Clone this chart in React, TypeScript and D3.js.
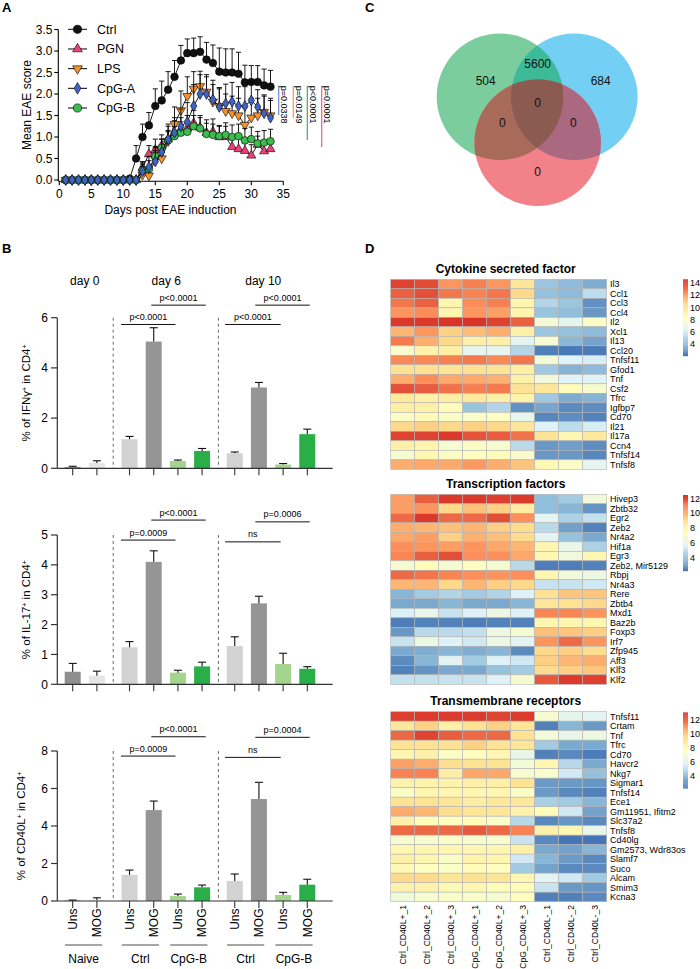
import React from "react";
import * as d3 from "d3";

const FONT = "'Liberation Sans', Arial, Helvetica, sans-serif";

// ---------------- Panel A data ----------------
const days = [1,2,3,4,5,6,7,8,9,10,11,12,13,14,15,16,17,18,19,20,21,22,23,24,25,26,27,28,29,30,31,32,33];
const seriesNames = ["Ctrl", "PGN", "LPS", "CpG-A", "CpG-B"];
const ctrlMean = [0,0,0,0,0,0,0,0,0,0,0.03,0.5,1.0,1.27,1.72,1.85,2.1,2.4,2.78,2.95,2.95,2.98,2.8,2.72,2.52,2.5,2.5,2.47,2.27,2.28,2.28,2.2,2.17];
const ctrlErr = [0,0,0,0,0,0,0,0,0,0,0.03,0.3,0.3,0.3,0.4,0.45,0.42,0.38,0.35,0.33,0.35,0.35,0.4,0.42,0.55,0.55,0.55,0.5,0.4,0.38,0.38,0.38,0.38];
const pgnMean = [0,0,0,0,0,0,0,0,0,0,0,0,0.28,0.6,0.7,0.8,0.95,1.08,1.15,1.2,1.32,1.22,1.1,1.12,1.0,1.0,0.77,0.72,0.68,0.57,0.82,0.67,0.72];
const pgnErr = [0,0,0,0,0,0,0,0,0,0,0,0,0.15,0.2,0.25,0.25,0.2,0.3,0.3,0.3,0.3,0.28,0.3,0.3,0.25,0.25,0.25,0.25,0.22,0.25,0.2,0.2,0.2];
const lpsMean = [0,0,0,0,0,0,0,0,0,0,0,0,0.12,0.1,0.48,0.5,0.9,1.3,1.62,1.95,2.12,2.18,2.05,1.82,1.72,1.6,1.55,1.5,1.28,1.45,1.5,1.58,1.5];
const lpsErr = [0,0,0,0,0,0,0,0,0,0,0,0,0.2,0.2,0.3,0.3,0.35,0.4,0.45,0.45,0.4,0.35,0.35,0.4,0.4,0.4,0.4,0.4,0.4,0.45,0.4,0.4,0.4];
const cpgaMean = [0,0,0,0,0,0,0,0,0,0,0,0,0.2,0.3,0.43,0.65,0.95,1.1,1.25,1.35,1.72,2.0,2.0,1.87,1.7,1.78,1.82,1.72,1.72,1.85,1.7,1.55,1.45];
const cpgaErr = [0,0,0,0,0,0,0,0,0,0,0,0,0.2,0.25,0.25,0.3,0.35,0.35,0.4,0.45,0.5,0.45,0.45,0.45,0.45,0.45,0.45,0.45,0.45,0.45,0.4,0.4,0.4];
const cpgbMean = [0,0,0,0,0,0,0,0,0,0,0,0,0.22,0.25,0.55,0.75,0.92,1.02,1.1,1.12,1.25,1.2,1.07,1.05,1.02,1.05,1.0,1.02,0.92,0.95,0.85,0.87,0.9];
const cpgbErr = [0,0,0,0,0,0,0,0,0,0,0,0,0.15,0.2,0.2,0.2,0.2,0.22,0.25,0.25,0.25,0.25,0.25,0.25,0.25,0.28,0.28,0.28,0.28,0.28,0.28,0.28,0.28];
const aXTicks = [0,5,10,15,20,25,30,35];
const aYTicks = [0,0.5,1.0,1.5,2.0,2.5,3.0,3.5];
const sigLabels = ["p=0.0338", "p=0.0149", "p<0.0001", "p=0.0001"];
const sigTop = 2.19;
const sigBottom = [1.51, 1.44, 0.93, 0.77];

// ---------------- Panel B data ----------------
const bConditions = ["Uns","MOG","Uns","MOG","Uns","MOG","Uns","MOG","Uns","MOG"];
const bGroups = ["Naive","Ctrl","CpG-B","Ctrl","CpG-B"];
const bDays = ["day 0","day 6","day 10"];
const ifngMean = [0.05,0.21,1.16,5.05,0.29,0.69,0.6,3.22,0.15,1.36];
const ifngErr = [0.03,0.09,0.11,0.55,0.04,0.1,0.05,0.2,0.04,0.2];
const il17Mean = [0.42,0.29,1.24,4.1,0.39,0.6,1.28,2.71,0.68,0.52];
const il17Err = [0.28,0.15,0.19,0.37,0.08,0.14,0.31,0.24,0.36,0.07];
const cd40Mean = [0.03,0.05,1.39,4.85,0.27,0.73,1.07,5.44,0.32,0.87];
const cd40Err = [0.02,0.12,0.26,0.48,0.1,0.12,0.37,0.89,0.14,0.29];
const ifngTicks = [0,2,4,6];
const il17Ticks = [0,1,2,3,4,5];
const cd40Ticks = [0,2,4,6,8];
const ifngP = ["p<0.0001","p<0.0001","p<0.0001","p<0.0001"];
const il17P = ["p=0.0009","p<0.0001","ns","p=0.0006"];
const cd40P = ["p=0.0009","p<0.0001","ns","p=0.0004"];
const ifngBracketY = [5.73,6.5,5.73,6.5];
const il17BracketY = [4.83,5.5,4.77,5.44];
const cd40BracketY = [7.73,8.76,7.66,8.73];

// ---------------- Panel C data ----------------
const vennCounts = ["504","5600","684","0","0","0","0"];

// ---------------- Panel D data ----------------
const hmColumns = ["Ctrl_CD40L+_1","Ctrl_CD40L+_2","Ctrl_CD40L+_3","CpG_CD40L+_1","CpG_CD40L+_2","CpG_CD40L+_3","Ctrl_CD40L-_1","Ctrl_CD40L-_2","Ctrl_CD40L-_3"];
const cytoGenes = ["Il3","Ccl1","Ccl3","Ccl4","Il2","Xcl1","Il13","Ccl20","Tnfsf11","Gfod1","Tnf","Csf2","Tfrc","Igfbp7","Cd70","Il21","Il17a","Ccn4","Tnfsf14","Tnfsf8"];
const cytoValues = [
  [14.2,14.0,12.3,12.8,12.3,10.0,4.4,4.0,3.6],
  [13.5,13.9,13.0,12.7,13.0,10.6,4.2,4.0,5.3],
  [13.0,13.5,9.0,12.5,12.8,9.0,5.0,4.4,2.8],
  [12.3,12.5,9.0,12.3,12.0,9.0,4.3,4.1,3.0],
  [14.4,14.4,14.5,14.5,14.2,13.5,7.5,6.5,8.0],
  [11.5,12.3,10.8,11.3,11.7,9.3,4.4,4.2,4.0],
  [12.9,11.7,10.6,9.3,9.3,6.5,7.6,3.9,3.3],
  [7.8,9.2,9.4,6.6,6.6,5.0,2.3,2.1,2.2],
  [12.6,12.6,12.8,12.9,12.6,13.0,7.4,6.2,6.0],
  [10.3,10.3,10.1,10.3,10.1,9.4,4.5,3.8,4.0],
  [11.7,12.5,11.8,11.8,11.6,9.3,7.3,6.2,6.3],
  [13.9,13.6,13.1,12.8,12.9,10.2,9.9,8.6,7.8],
  [9.8,9.3,9.5,9.8,9.4,9.2,4.5,3.6,3.8],
  [9.4,9.3,8.5,4.3,5.0,2.8,3.4,2.6,2.7],
  [8.0,8.7,8.0,7.9,8.2,6.7,2.5,2.7,2.4],
  [10.6,10.8,10.6,10.8,10.6,9.9,6.2,5.3,6.0],
  [14.2,14.2,14.4,13.8,13.6,13.1,10.2,8.9,9.8],
  [9.3,9.1,7.6,8.0,7.7,5.2,3.0,3.2,2.7],
  [7.7,8.8,8.0,8.2,8.5,7.8,3.0,3.0,2.5],
  [11.7,11.8,11.8,12.2,11.7,11.1,8.7,8.0,6.6],
];
const tfGenes = ["Hivep3","Zbtb32","Egr2","Zeb2","Nr4a2","Hif1a","Egr3","Zeb2, Mir5129","Rbpj","Nr4a3","Rere","Zbtb4","Mxd1","Baz2b","Foxp3","Irf7","Zfp945","Aff3","Klf3","Klf2"];
const tfValues = [
  [10.4,11.6,12.3,12.3,12.2,12.3,3.9,4.3,6.5],
  [10.4,10.6,9.2,9.7,9.4,8.4,3.9,3.7,2.9],
  [11.4,12.3,11.4,11.4,11.9,10.7,5.8,4.5,5.0],
  [10.1,9.9,9.7,9.9,9.4,9.1,4.8,3.2,2.5],
  [10.2,10.4,9.4,10.0,9.7,9.1,5.8,4.0,3.4],
  [10.7,10.6,10.4,10.6,10.2,9.9,7.8,6.1,4.5],
  [10.9,11.6,11.9,10.7,10.7,10.2,7.8,6.5,7.8],
  [6.8,7.5,6.8,7.3,6.8,4.8,2.4,2.4,2.5],
  [11.4,11.2,10.9,10.7,10.6,10.7,7.8,6.5,6.3],
  [9.9,9.9,9.2,9.9,9.4,9.2,5.1,5.1,5.3],
  [3.7,4.3,4.6,4.3,4.6,5.6,8.9,9.6,9.6],
  [3.4,3.4,3.7,3.4,3.4,3.7,8.7,9.0,9.2],
  [5.5,6.1,5.1,5.6,6.3,5.6,10.9,10.9,10.6],
  [2.4,2.5,2.5,2.4,2.5,2.5,7.8,7.8,7.8],
  [3.0,4.8,4.8,5.0,6.3,6.8,9.7,9.6,9.4],
  [5.1,6.3,5.6,5.3,6.3,5.8,10.6,11.4,10.6],
  [3.4,3.5,3.7,3.5,3.7,2.7,9.2,9.4,9.1],
  [2.7,3.7,5.8,4.3,5.6,5.3,9.4,9.9,10.1],
  [2.5,2.9,3.4,3.4,4.0,4.3,9.1,9.4,9.6],
  [5.0,5.0,5.1,5.1,5.6,6.8,11.7,12.3,12.2],
];
const tmGenes = ["Tnfsf11","Crtam","Tnf","Tfrc","Cd70","Havcr2","Nkg7","Sigmar1","Tnfsf14","Ece1","Gm11951, Ifitm2","Slc37a2","Tnfsf8","Cd40lg","Gm2573, Wdr83os","Slamf7","Suco","Alcam","Smim3","Kcna3"];
const tmValues = [
  [12.8,12.9,12.9,12.9,12.7,12.9,7.1,6.2,6.0],
  [9.0,9.8,8.5,9.3,9.8,9.1,2.5,3.8,3.1],
  [12.0,12.7,12.2,12.0,12.0,9.3,6.9,6.3,6.6],
  [9.3,9.3,9.3,9.8,9.3,9.1,4.4,3.5,3.5],
  [8.2,8.5,7.4,7.7,8.2,6.3,2.5,2.7,2.4],
  [10.9,10.6,9.5,9.3,9.3,6.9,8.2,4.9,3.5],
  [11.5,11.5,8.7,10.7,10.7,7.1,7.3,5.5,4.1],
  [8.4,8.4,8.4,8.5,8.5,9.3,3.1,3.1,3.0],
  [7.4,8.2,8.2,8.2,8.2,7.4,3.1,2.7,2.5],
  [9.3,9.3,9.1,8.7,9.0,9.0,4.6,4.4,3.8],
  [10.6,10.4,9.5,9.1,9.1,8.4,7.9,5.5,3.3],
  [8.5,7.9,7.7,7.9,7.3,4.9,2.7,3.0,2.7],
  [12.0,12.0,12.0,12.3,12.0,11.5,8.5,8.2,6.3],
  [7.1,7.1,7.3,7.1,7.1,5.3,2.7,2.2,2.2],
  [8.2,8.2,8.2,8.2,8.2,8.5,3.5,3.3,3.8],
  [8.5,8.2,7.4,8.4,8.2,5.5,3.8,3.1,2.7],
  [8.0,7.7,7.4,7.9,7.7,4.4,3.3,2.7,2.7],
  [9.6,9.6,9.1,9.3,9.1,8.2,6.0,5.5,4.4],
  [8.4,8.4,8.0,8.2,7.9,7.9,5.3,3.1,3.0],
  [6.8,7.1,7.3,7.3,7.1,7.7,2.5,2.5,2.7],
];
const hmTitles = ["Cytokine secreted factor","Transcription factors","Transmembrane receptors"];
const hmRanges = [[2.0,14.6],[2.2,12.46],[2.2,13.1]];
const hmLegendTicks = [[4,6,8,10,12,14],[4,6,8,10,12],[4,6,8,10,12]];

const PALETTE = ["#4575B4","#91BFDB","#E0F3F8","#FFFFBF","#FEE090","#FC8D59","#D73027"];

// ---------------- helpers ----------------
function Sup({ children }: { children: any }) {
  return <tspan baselineShift="super" fontSize={7}>{children}</tspan>;
}

function PanelA() {
  const x = d3.scaleLinear().domain([0, 35]).range([59.3, 283.3]);
  const y = d3.scaleLinear().domain([0, 3.5]).range([180, 29.5]);
  const axisY = 181.2;
  const means = [ctrlMean, pgnMean, lpsMean, cpgaMean, cpgbMean];
  const errs = [ctrlErr, pgnErr, lpsErr, cpgaErr, cpgbErr];
  const fills = ["#111111", "#ec407a", "#f5922f", "#3f63c4", "#3dbb4e"];
  const shapes = [d3.symbolCircle, d3.symbolTriangle, d3.symbolTriangle, d3.symbolDiamond, d3.symbolCircle];
  const sizes = [46, 36, 36, 34, 46];
  const rot = [0, 0, 180, 0, 0];
  const sigColors = ["#6f86c9", "#f39b45", "#3fae4f", "#ea5d95"];
  const sigX = [278.7, 293.3, 307.3, 321.7];
  const order = [0, 1, 2, 4, 3];
  const line = d3.line<number>().x((_, i) => x(days[i])).y((d) => y(d));
  const legendY = d3.scaleLinear().domain([0, 4]).range([29.3, 108]);
  return (
    <g>
      <text x={2} y={11.7} fontSize={13} fontWeight="bold">A</text>
      <line x1={58.3} x2={58.3} y1={29.5} y2={axisY} stroke="#000" strokeWidth={1.1} />
      <line x1={58.3} x2={283.3} y1={axisY} y2={axisY} stroke="#000" strokeWidth={1.1} />
      {aYTicks.map((t) => (
        <g key={"ya" + t}>
          <line x1={54.3} x2={58.3} y1={y(t)} y2={y(t)} stroke="#000" strokeWidth={1.1} />
          <text x={52.5} y={y(t) + 4.2} fontSize={12} textAnchor="end">{t.toFixed(1)}</text>
        </g>
      ))}
      {aXTicks.map((t) => (
        <g key={"xa" + t}>
          <line x1={x(t)} x2={x(t)} y1={axisY} y2={axisY + 4} stroke="#000" strokeWidth={1.1} />
          <text x={x(t)} y={197.5} fontSize={12} textAnchor="middle">{t}</text>
        </g>
      ))}
      <text x={170.5} y={214} fontSize={12} textAnchor="middle">Days post EAE induction</text>
      <text transform={`translate(30.5,105) rotate(-90)`} fontSize={12} textAnchor="middle">Mean EAE score</text>
      {order.map((s) => {
        const sym = d3.symbol(shapes[s], sizes[s])() as string;
        return (
          <g key={"s" + s}>
            {means[s].map((m, i) =>
              errs[s][i] > 0 ? (
                <g key={i}>
                  <line x1={x(days[i])} x2={x(days[i])} y1={y(m)} y2={y(m + errs[s][i])} stroke="#000" strokeWidth={0.9} />
                  <line x1={x(days[i]) - 2.6} x2={x(days[i]) + 2.6} y1={y(m + errs[s][i])} y2={y(m + errs[s][i])} stroke="#000" strokeWidth={0.9} />
                </g>
              ) : null
            )}
            <path d={line(means[s]) as string} fill="none" stroke="#000" strokeWidth={0.9} />
            {means[s].map((m, i) => (
              <path key={i} d={sym} transform={`translate(${x(days[i])},${y(m)}) rotate(${rot[s]})`} fill={fills[s]} stroke="#000" strokeWidth={0.6} />
            ))}
          </g>
        );
      })}
      {seriesNames.map((n, s) => {
        const sym = d3.symbol(shapes[s], sizes[s] * 1.15)() as string;
        const ly = legendY(s);
        return (
          <g key={"lg" + s}>
            <line x1={68} x2={87} y1={ly} y2={ly} stroke="#000" strokeWidth={1} />
            <path d={sym} transform={`translate(77.5,${ly}) rotate(${rot[s]})`} fill={fills[s]} stroke="#000" strokeWidth={0.6} />
            <text x={97} y={ly + 4.4} fontSize={12.5}>{n}</text>
          </g>
        );
      })}
      {sigLabels.map((p, i) => (
        <g key={"sig" + i}>
          <line x1={sigX[i]} x2={sigX[i]} y1={y(sigTop)} y2={y(sigBottom[i])} stroke={sigColors[i]} strokeWidth={1.2} />
          <text transform={`translate(${sigX[i] + 2.2},${y(sigTop)}) rotate(90)`} fontSize={9}>{p}</text>
        </g>
      ))}
    </g>
  );
}

const bPos = [0, 1, 2.35, 3.35, 4.35, 5.35, 6.7, 7.7, 8.7, 9.7];
const bBarColors = ["#8e8e8e", "#e6e6e6", "#d2d2d2", "#959595", "#a4d58f", "#2aae48", "#d2d2d2", "#959595", "#a4d58f", "#2aae48"];
const xB = d3.scaleLinear().domain([0, 9.7]).range([72.7, 307.3]);
const bracketSpans = [[2.0, 4.25], [3.25, 5.5], [6.3, 8.6], [7.55, 9.8]];

function BarPanel(props: {
  means: number[]; errs: number[]; ticks: number[]; zeroY: number; topY: number;
  pLabels: string[]; bracketY: number[]; label: any; labelX: number;
}) {
  const { means, errs, ticks, zeroY, topY, pLabels, bracketY, label, labelX } = props;
  const max = ticks[ticks.length - 1];
  const y = d3.scaleLinear().domain([0, max]).range([zeroY, topY]);
  const sepX = [(xB(bPos[1]) + xB(bPos[2])) / 2, (xB(bPos[5]) + xB(bPos[6])) / 2];
  return (
    <g>
      {sepX.map((sx, i) => (
        <line key={"sep" + i} x1={sx} x2={sx} y1={topY} y2={zeroY} stroke="#444" strokeWidth={0.8} strokeDasharray="3,3" />
      ))}
      {means.map((m, i) => {
        const cx = xB(bPos[i]);
        return (
          <g key={"bar" + i}>
            <rect x={cx - 8} y={y(m)} width={16} height={zeroY - y(m)} fill={bBarColors[i]} />
            <line x1={cx} x2={cx} y1={y(m)} y2={y(m + errs[i])} stroke="#111" strokeWidth={1.1} />
            <line x1={cx - 4} x2={cx + 4} y1={y(m + errs[i])} y2={y(m + errs[i])} stroke="#111" strokeWidth={1.1} />
            <line x1={cx} x2={cx} y1={zeroY} y2={zeroY + 7} stroke="#333" strokeWidth={1.1} />
          </g>
        );
      })}
      <line x1={57.3} x2={57.3} y1={topY} y2={zeroY} stroke="#333" strokeWidth={1.2} />
      <line x1={57.3} x2={332.7} y1={zeroY} y2={zeroY} stroke="#333" strokeWidth={1.2} />
      {ticks.map((t) => (
        <g key={"t" + t}>
          <line x1={51} x2={57.3} y1={y(t)} y2={y(t)} stroke="#333" strokeWidth={1.2} />
          <text x={48} y={y(t) + 4.3} fontSize={12} textAnchor="end">{t}</text>
        </g>
      ))}
      {pLabels.map((p, i) => {
        const [a, b] = bracketSpans[i];
        const ly = y(bracketY[i]);
        return (
          <g key={"br" + i}>
            <line x1={xB(a)} x2={xB(b)} y1={ly} y2={ly} stroke="#111" strokeWidth={1} />
            <text x={(xB(a) + xB(b)) / 2} y={ly - 4.5} fontSize={9} textAnchor="middle">{p}</text>
          </g>
        );
      })}
      <text transform={`translate(${labelX},${(topY + zeroY) / 2}) rotate(-90)`} fontSize={11.5} textAnchor="middle">{label}</text>
    </g>
  );
}

function PanelB() {
  const dayPos = [0.5, 3.87, 7.88];
  const groupSpans = [[0, 1], [2.35, 3.35], [4.35, 5.35], [6.7, 7.7], [8.7, 9.7]];
  return (
    <g>
      <text x={2} y={252.7} fontSize={13} fontWeight="bold">B</text>
      {bDays.map((d, i) => (
        <text key={d} x={xB(dayPos[i])} y={284.5} fontSize={12} textAnchor="middle">{d}</text>
      ))}
      <BarPanel means={ifngMean} errs={ifngErr} ticks={ifngTicks} zeroY={468.3} topY={317.7}
        pLabels={ifngP} bracketY={ifngBracketY} labelX={30}
        label={<>% of IFNγ<Sup>+</Sup> in CD4<Sup>+</Sup></>} />
      <BarPanel means={il17Mean} errs={il17Err} ticks={il17Ticks} zeroY={684.3} topY={535}
        pLabels={il17P} bracketY={il17BracketY} labelX={30}
        label={<>% of IL-17<Sup>+</Sup> in CD4<Sup>+</Sup></>} />
      <BarPanel means={cd40Mean} errs={cd40Err} ticks={cd40Ticks} zeroY={901} topY={751}
        pLabels={cd40P} bracketY={cd40BracketY} labelX={25}
        label={<>% of CD40L<Sup>+</Sup> in CD4<Sup>+</Sup></>} />
      {bConditions.map((c, i) => (
        <text key={"c" + i} transform={`translate(${xB(bPos[i]) + 4.3},908.5) rotate(-90)`} fontSize={12} textAnchor="end">{c}</text>
      ))}
      {bGroups.map((g, i) => {
        const x1 = xB(groupSpans[i][0] - 0.32);
        const x2 = xB(groupSpans[i][1] + 0.22);
        return (
          <g key={"g" + i}>
            <line x1={x1} x2={x2} y1={945} y2={945} stroke="#888" strokeWidth={1.4} />
            <text x={(x1 + x2) / 2} y={962.5} fontSize={12} textAnchor="middle">{g}</text>
          </g>
        );
      })}
    </g>
  );
}

function PanelC() {
  const r = 63.3;
  const G = { x: 500, y: 96.7 };
  const B = { x: 574.3, y: 96.7 };
  const R = { x: 537.7, y: 142.7 };
  const labelPos = [[485.7, 80.7], [537.7, 63.3], [600.7, 80.7], [537.7, 102.7], [502.3, 122.7], [573.3, 122.7], [537.7, 171.7]];
  return (
    <g>
      <text x={365} y={11.7} fontSize={13} fontWeight="bold">C</text>
      <defs>
        <clipPath id="clipG"><circle cx={G.x} cy={G.y} r={r} /></clipPath>
        <clipPath id="clipB"><circle cx={B.x} cy={B.y} r={r} /></clipPath>
        <clipPath id="clipR"><circle cx={R.x} cy={R.y} r={r} /></clipPath>
      </defs>
      <circle cx={G.x} cy={G.y} r={r} fill="#7bcd9e" />
      <circle cx={B.x} cy={B.y} r={r} fill="#74cff4" />
      <circle cx={R.x} cy={R.y} r={r} fill="#f2818a" />
      <g clipPath="url(#clipG)"><circle cx={B.x} cy={B.y} r={r} fill="#3dba98" /></g>
      <g clipPath="url(#clipG)"><circle cx={R.x} cy={R.y} r={r} fill="#a96b59" /></g>
      <g clipPath="url(#clipB)"><circle cx={R.x} cy={R.y} r={r} fill="#aa6981" /></g>
      <g clipPath="url(#clipG)"><g clipPath="url(#clipB)"><circle cx={R.x} cy={R.y} r={r} fill="#8b5b52" /></g></g>
      {vennCounts.map((c, i) => (
        <text key={"v" + i} x={labelPos[i][0]} y={labelPos[i][1] + 4.3} fontSize={12} textAnchor="middle" fill="#111">{c}</text>
      ))}
    </g>
  );
}

function Heatmap(props: { title: string; genes: string[]; values: number[][]; range: number[]; ticks: number[]; top: number; }) {
  const { title, genes, values, range, ticks, top } = props;
  const [lo, hi] = range;
  const stops = PALETTE.map((_, i) => lo + ((hi - lo) * i) / (PALETTE.length - 1));
  const color = d3.scaleLinear<string>().domain(stops).range(PALETTE).interpolate(d3.interpolateRgb).clamp(true);
  const x = d3.scaleBand<number>().domain(d3.range(hmColumns.length)).range([390.7, 606.7]);
  const rowH = 9.5;
  const y = d3.scaleBand<number>().domain(d3.range(genes.length)).range([top, top + rowH * genes.length]);
  const barTop = top + (hmRanges[0] === range ? 0 : 0.7);
  const barBottom = top + 76.6;
  const cy = d3.scaleLinear().domain([lo, hi]).range([barBottom, barTop]);
  const steps = d3.range(80);
  return (
    <g>
      <text x={505.7} y={top - 6.8} fontSize={12} fontWeight="bold" textAnchor="middle">{title}</text>
      {values.map((row, ri) =>
        row.map((v, ci) => (
          <rect key={ri + "-" + ci} x={x(ci)} y={y(ri)} width={x.bandwidth()} height={y.bandwidth()} fill={color(v)} stroke="#b3b3b3" strokeWidth={0.6} />
        ))
      )}
      {genes.map((g, ri) => (
        <text key={g} x={610} y={(y(ri) as number) + rowH / 2 + 3.3} fontSize={9}>{g}</text>
      ))}
      {steps.map((s) => {
        const v0 = lo + ((hi - lo) * s) / steps.length;
        const v1 = lo + ((hi - lo) * (s + 1)) / steps.length;
        return <rect key={"cb" + s} x={683} y={cy(v1)} width={5} height={cy(v0) - cy(v1) + 0.3} fill={color((v0 + v1) / 2)} />;
      })}
      {ticks.map((t) => (
        <text key={"ct" + t} x={690} y={cy(t) + 3.3} fontSize={9}>{t}</text>
      ))}
    </g>
  );
}

function PanelD() {
  const tops = [279.3, 494.3, 711.7];
  const genes = [cytoGenes, tfGenes, tmGenes];
  const vals = [cytoValues, tfValues, tmValues];
  const x = d3.scaleBand<number>().domain(d3.range(hmColumns.length)).range([390.7, 606.7]);
  return (
    <g>
      <text x={365} y={253} fontSize={13} fontWeight="bold">D</text>
      {hmTitles.map((t, i) => (
        <Heatmap key={t} title={t} genes={genes[i]} values={vals[i]} range={hmRanges[i]} ticks={hmLegendTicks[i]} top={tops[i]} />
      ))}
      {hmColumns.map((c, i) => (
        <text key={c} transform={`translate(${(x(i) as number) + x.bandwidth() / 2 + 3.1},905) rotate(-90)`} fontSize={8.6} textAnchor="end">{c}</text>
      ))}
    </g>
  );
}

export default function App() {
  return (
    <svg width={700} height={969} viewBox="0 0 700 969" style={{ position: "absolute", left: 0, top: 0, background: "#fff" }} fontFamily={FONT}>
      <rect x={0} y={0} width={700} height={969} fill="#fff" />
      <PanelA />
      <PanelB />
      <PanelC />
      <PanelD />
    </svg>
  );
}
